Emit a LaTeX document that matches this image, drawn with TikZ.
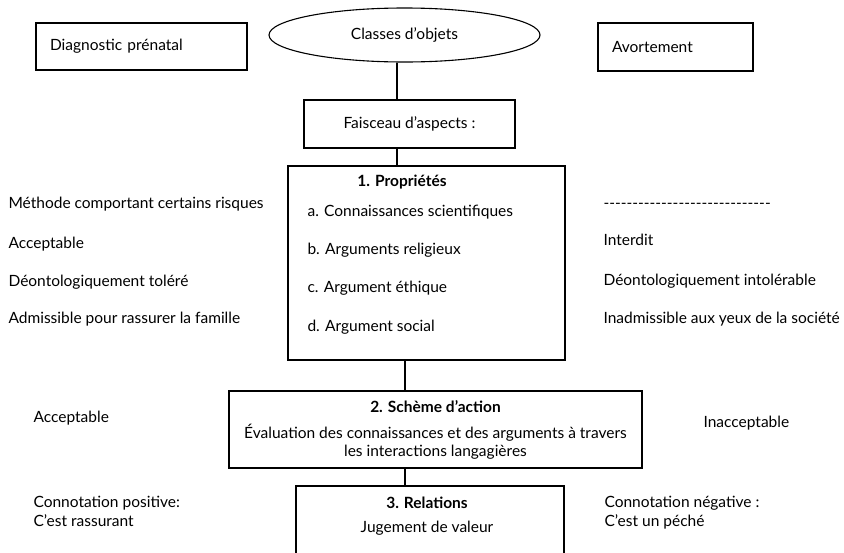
\documentclass[tikz,border=0pt]{standalone}
\usepackage{fontspec}
\setmainfont{Lato}
\usetikzlibrary{shapes.geometric, positioning}

\begin{document}
\begin{tikzpicture}[x=1pt, y=-1pt, line width=1.1pt,
  every node/.style={font=\fontsize{15.5}{18}\selectfont},
  box/.style={draw, rectangle, inner ysep=0pt},
  lbl/.style={anchor=base west, inner sep=0pt},
  ctr/.style={anchor=base, inner sep=0pt}]
\clip (0,0) rectangle (844,552);
\node[box, minimum width=211, minimum height=47, text width=183, inner xsep=14, align=left] (diag) at (141.5,46.5) {Diagnostic prénatal};
\node[draw, ellipse, minimum width=271, minimum height=54, inner sep=0pt] (cls) at (404.5,35) {Classes d'objets};
\node[box, minimum width=155, minimum height=48, text width=127, inner xsep=14, align=left] (avort) at (675.5,47) {Avortement};
\node[box, minimum width=211, minimum height=48] (fais) at (409.5,124) {Faisceau d'aspects :};
\node[box, minimum width=277, minimum height=194] (prop) at (426.5,263) {};
\node[ctr] (propt) at (402,186) {\textbf{1. Propriétés}};
\node[lbl] (pa) at (307,216) {a. Connaissances scientifiques};
\node[lbl] (pb) at (307,254) {b. Arguments religieux};
\node[lbl] (pc) at (307,292) {c. Argument éthique};
\node[lbl] (pd) at (307,331) {d. Argument social};
\node[lbl] (g1) at (8,208) {Méthode comportant certains risques};
\node[lbl] (g2) at (8,248) {Acceptable};
\node[lbl] (g3) at (8,286) {Déontologiquement toléré};
\node[lbl] (g4) at (8,323) {Admissible pour rassurer la famille};
\node[lbl] (d1) at (603,208) {\foreach \k in {1,...,29}{-}};
\node[lbl] (d2) at (603,245) {Interdit};
\node[lbl] (d3) at (603,285) {Déontologiquement intolérable};
\node[lbl] (d4) at (603,323) {Inadmissible aux yeux de la société};
\node[box, minimum width=413, minimum height=77, align=center] (scheme) at (435.5,429.5)
  {\textbf{2. Schème d'action}\\[8pt] Évaluation des connaissances et des arguments à travers\\ les interactions langagières};
\node[lbl] (acc) at (33,422) {Acceptable};
\node[lbl] (inacc) at (703,427) {Inacceptable};
\node[box, minimum width=268, minimum height=100] (rel) at (430,536) {};
\node[ctr] (relt) at (427,508) {\textbf{3. Relations}};
\node[ctr] (jug) at (427,532) {Jugement de valeur};
\node[lbl] (pos) at (33,507) {Connotation positive:};
\node[lbl] (rass) at (33,526) {C'est rassurant};
\node[lbl] (neg) at (604,507) {Connotation négative :};
\node[lbl] (pech) at (604,526) {C'est un péché};
\draw ([xshift=-7.5pt]cls.south) -- ([xshift=-7.5pt]cls.south |- fais.north);
\draw ([xshift=-12.5pt]fais.south) -- ([xshift=-12.5pt]fais.south |- prop.north);
\draw ([xshift=-21.5pt]prop.south) -- ([xshift=-21.5pt]prop.south |- scheme.north);
\draw ([xshift=-30.5pt]scheme.south) -- ([xshift=-30.5pt]scheme.south |- rel.north);
\end{tikzpicture}
\end{document}
